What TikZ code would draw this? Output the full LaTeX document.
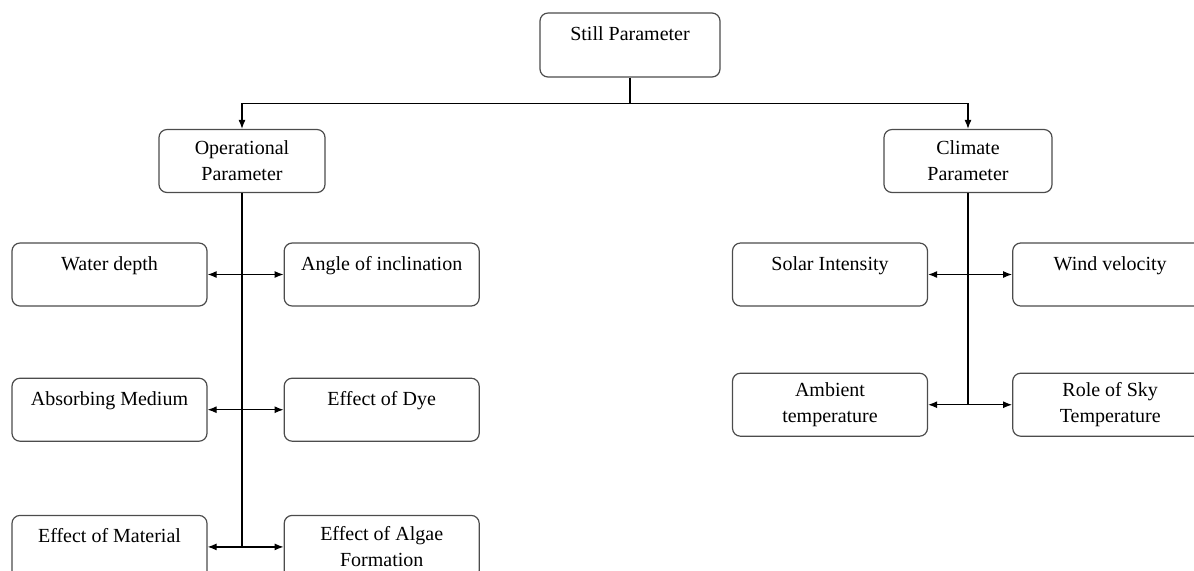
\documentclass[tikz,border=0pt]{standalone}
\usepackage{fontspec}
\setmainfont{Liberation Serif}
\usetikzlibrary{positioning, arrows.meta}

\tikzset{
  pbox/.style={draw=black!70, rounded corners=4pt, line width=0.6pt, minimum width=97.5pt,
    minimum height=31.5pt, inner sep=3pt, align=center, font=\fontsize{10}{13}\selectfont},
  topbox/.style={pbox, text height=10.5pt, text depth=15pt},
}

\begin{document}
\begin{tikzpicture}[x=0.5pt, y=-0.5pt, >={Latex[length=4.5pt, width=3.5pt]}, line width=0.6pt]
  \useasboundingbox (0,0) rectangle (1194,570);

  % top levels
  \node[topbox, minimum width=90pt, minimum height=32pt] (still) at (630,45) {Still Parameter};
  \node[pbox, minimum width=83pt] (oper) at (242,161) {Operational\\Parameter};
  \node[pbox, minimum width=84pt] (clim) at (968,161) {Climate\\Parameter};

  % operational side
  \node[topbox] (water) at (109.5,274.5) {Water depth};
  \node[topbox, right=38pt of water] (angle) {Angle of inclination};
  \node[topbox, below=35.5pt of water] (absorb) {Absorbing Medium};
  \node[topbox, right=38pt of absorb] (dye) {Effect of Dye};
  \node[topbox, below=36.5pt of absorb] (material) {Effect of Material};
  \node[pbox, right=38pt of material] (algae) {Effect of Algae\\Formation};

  % climate side
  \node[topbox] (solar) at (830,274.5) {Solar Intensity};
  \node[topbox, right=42pt of solar] (wind) {Wind velocity};
  \node[pbox, below=33pt of solar] (ambient) {Ambient\\temperature};
  \node[pbox, right=42pt of ambient] (sky) {Role of Sky\\Temperature};

  \draw (still.south) -- ++(0,26) coordinate (split);
  \draw[->] (split) -| (oper.north);
  \draw[->] (split) -| (clim.north);

  \draw (oper.south) -- (oper.south |- material.east);
  \draw[<->] (water) -- (angle);
  \draw[<->] (absorb) -- (dye);
  \draw[<->] (material) -- (algae);

  \draw (clim.south) -- (clim.south |- ambient.east);
  \draw[<->] (solar) -- (wind);
  \draw[<->] (ambient) -- (sky);
\end{tikzpicture}
\end{document}
